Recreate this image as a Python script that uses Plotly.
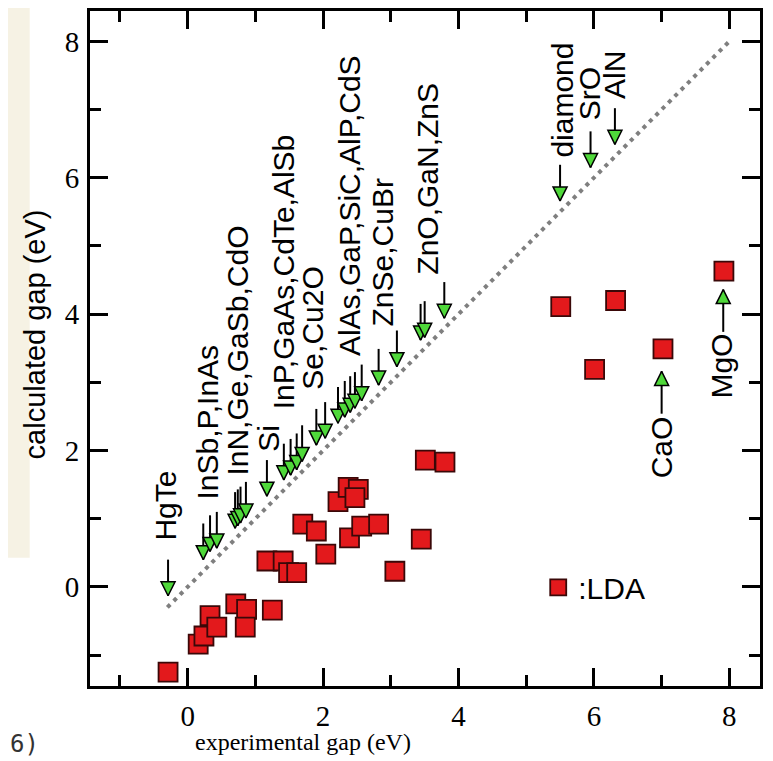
import plotly.graph_objects as go

# ---- data ----
# LDA calculated gap vs experimental gap (red squares)
lda_exp = [-0.29, 0.155, 0.24, 0.33, 0.43, 0.71, 0.87, 0.85, 1.25, 1.17, 1.41, 1.49, 1.61,
           1.70, 1.90, 2.04, 2.22, 2.37, 2.52, 2.47, 2.39, 2.57, 2.82, 3.06, 3.45, 3.51,
           3.80, 5.51, 6.32, 6.01, 7.02, 7.92]
lda_calc = [-1.25, -0.84, -0.72, -0.42, -0.59, -0.25, -0.33, -0.59, -0.34, 0.38, 0.38, 0.21, 0.21,
            0.92, 0.82, 0.48, 1.25, 1.46, 1.43, 1.31, 0.72, 0.89, 0.92, 0.23, 0.70, 1.86,
            1.83, 4.11, 4.20, 3.19, 3.49, 4.63]

# experimental gaps marked by downward green arrows (arrow tip positions)
arrow_exp = [-0.29, 0.23, 0.33, 0.43, 0.70, 0.74, 0.78, 0.86, 1.17, 1.42, 1.52, 1.61, 1.69,
             1.90, 2.03, 2.22, 2.32, 2.40, 2.47, 2.57, 2.82, 3.09, 3.44, 3.50, 3.79,
             5.50, 5.95, 6.31]
arrow_tip = [-0.13, 0.40, 0.52, 0.57, 0.86, 0.90, 0.94, 1.01, 1.33, 1.57, 1.64, 1.72, 1.84,
             2.08, 2.18, 2.40, 2.49, 2.56, 2.62, 2.73, 2.96, 3.23, 3.62, 3.66, 3.94,
             5.66, 6.15, 6.49]

# upward green arrows (CaO, MgO), tip positions
up_exp = [7.00, 7.91]
up_tip = [3.16, 4.36]

# labels
label_text = ["HgTe", "InSb,P,InAs", "InN,Ge,GaSb,CdO", "Si", "InP,GaAs,CdTe,AlSb",
              "Se,Cu2O", "AlAs,GaP,SiC,AlP,CdS", "ZnSe,CuBr", "ZnO,GaN,ZnS",
              "diamond", "SrO", "AlN"]
label_x = [-0.32, 0.285, 0.74, 1.19, 1.42, 1.85, 2.38, 2.87, 3.55, 5.54, 5.93, 6.30]
label_y = [0.65, 1.26, 1.60, 1.95, 2.58, 2.87, 3.36, 3.79, 4.55, 6.27, 6.81, 7.13]

up_label_text = ["CaO", "MgO"]
up_label_x = [6.99, 7.88]
up_label_y = [2.53, 3.74]

diag_line = [-0.3, 8.0]

x_ticks = [0, 2, 4, 6, 8]
y_ticks = [0, 2, 4, 6, 8]

# ---- styles ----
STEM_DOWN = 0.53
STEM_UP = 0.62
RED = "#e3191c"
GREEN = "#4fd83a"
SANS = "Liberation Sans, Arial, sans-serif"
SERIF = "Liberation Serif, Times New Roman, serif"

fig = go.Figure()

# diagonal dotted line
fig.add_trace(go.Scatter(x=diag_line, y=diag_line, mode="lines",
                         line=dict(color="#7f7f7f", width=4, dash="4px,5px"),
                         showlegend=False, hoverinfo="skip"))

# stems
sx, sy = [], []
for x, y in zip(arrow_exp, arrow_tip):
    sx += [x, x, None]
    sy += [y, y + STEM_DOWN, None]
for x, y in zip(up_exp, up_tip):
    sx += [x, x, None]
    sy += [y, y - STEM_UP, None]
fig.add_trace(go.Scatter(x=sx, y=sy, mode="lines", line=dict(color="black", width=2),
                         showlegend=False, hoverinfo="skip"))

fig.add_trace(go.Scatter(x=arrow_exp, y=arrow_tip, mode="markers",
                         marker=dict(symbol="arrow-down", size=14, color=GREEN,
                                     line=dict(color="black", width=1.5)),
                         showlegend=False))
fig.add_trace(go.Scatter(x=up_exp, y=up_tip, mode="markers",
                         marker=dict(symbol="arrow-up", size=14, color=GREEN,
                                     line=dict(color="black", width=1.5)),
                         showlegend=False))

fig.add_trace(go.Scatter(x=lda_exp, y=lda_calc, mode="markers", name=":LDA",
                         marker=dict(symbol="square", size=19, color=RED,
                                     line=dict(color="#3a0808", width=1.8)),
                         showlegend=True))

for t, x, y in zip(label_text, label_x, label_y):
    fig.add_annotation(x=x, y=y, text=t, textangle=-90, showarrow=False,
                       xanchor="center", yanchor="bottom",
                       font=dict(family=SANS, size=30, color="black"))
for t, x, y in zip(up_label_text, up_label_x, up_label_y):
    fig.add_annotation(x=x, y=y, text=t, textangle=-90, showarrow=False,
                       xanchor="center", yanchor="top",
                       font=dict(family=SANS, size=30, color="black"))

# axis titles
fig.add_annotation(xref="paper", yref="paper", x=0.318, y=-0.0826,
                   text="experimental gap (eV)", showarrow=False,
                   xanchor="center", yanchor="middle",
                   font=dict(family=SERIF, size=24, color="black"))
fig.add_annotation(xref="paper", yref="paper", x=-0.082, y=0.521,
                   text="calculated gap (eV)", showarrow=False, textangle=-90,
                   xanchor="center", yanchor="middle",
                   font=dict(family=SANS, size=29, color="black"))
# caption fragment at lower left
fig.add_annotation(xref="paper", yref="paper", x=-0.1224, y=-0.0855,
                   text="6)", showarrow=False, xanchor="left", yanchor="middle",
                   font=dict(family="DejaVu Sans Mono", size=24, color="#333333"))

# faint beige background fragment at the left edge
fig.add_shape(type="rect", xref="paper", yref="paper", x0=-0.125, x1=-0.09,
              y0=0.19, y1=1.02, fillcolor="#f6f2e4", line=dict(width=0), layer="below")

axis_common = dict(
    ticks="inside", ticklen=18, tickwidth=2.5, tickcolor="black",
    showline=True, linewidth=3, linecolor="black", mirror="ticks",
    showgrid=False, zeroline=False,
    minor=dict(dtick=1, tick0=0, ticks="inside", ticklen=11, tickwidth=2.5,
               tickcolor="black", showgrid=False),
)
fig.update_xaxes(range=[-1.443, 8.453], tickvals=x_ticks,
                 tickfont=dict(family=SERIF, size=29, color="black"),
                 ticklabelstandoff=2, **axis_common)
fig.update_yaxes(range=[-1.453, 8.445], tickvals=y_ticks,
                 tickfont=dict(family=SERIF, size=29, color="black"),
                 ticklabelstandoff=2, **axis_common)

# the page body adds an 8px margin, so the figure is 8px smaller on each side
fig.update_layout(
    width=765, height=753,
    margin=dict(l=82, r=13, t=0, b=75),
    plot_bgcolor="white", paper_bgcolor="white",
    showlegend=True,
    legend=dict(x=0.669, y=0.146, xanchor="left", yanchor="middle",
                bgcolor="rgba(0,0,0,0)", borderwidth=0,
                font=dict(family=SANS, size=30, color="black")),
)

fig.write_html("out.html")
